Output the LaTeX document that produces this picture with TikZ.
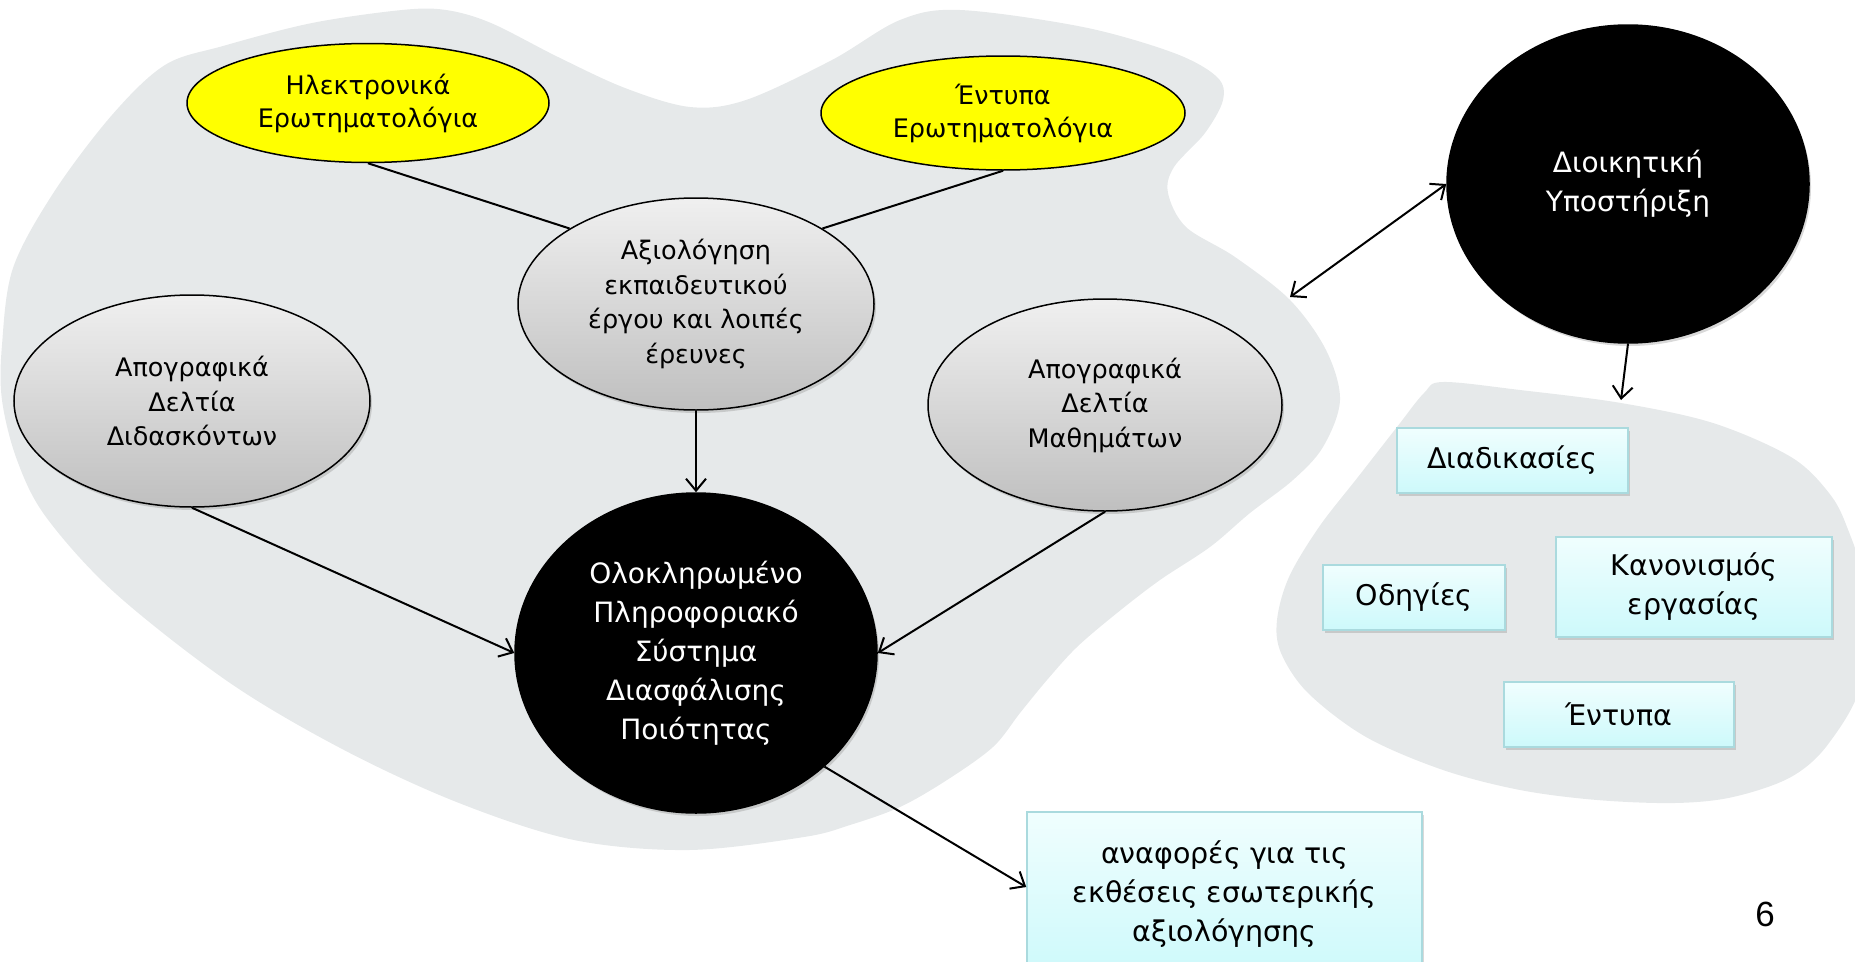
\documentclass[tikz,border=0pt]{standalone}
\usepackage{fontspec}
\setmainfont{DejaVu Sans}
\newfontfamily\numfont{Liberation Sans}
\usetikzlibrary{shapes.geometric,arrows.meta,shadows}
\definecolor{blobgrey}{RGB}{230,233,234}
\definecolor{boxedge}{RGB}{170,218,222}
\definecolor{boxtop}{RGB}{240,254,254}
\definecolor{boxbot}{RGB}{205,249,251}
\definecolor{ellyellow}{RGB}{255,255,0}
\tikzset{
  blob/.style={fill=blobgrey, draw=none},
  ell/.style={ellipse, inner sep=0pt, align=center, line width=1.5pt, draw=black},
  shad/.style={drop shadow={opacity=0.3, shadow xshift=2pt, shadow yshift=-3pt}},
  yellowell/.style={ell, fill=ellyellow, font=\fontsize{25.5}{33}\selectfont},
  greyell/.style={ell, top color=gray!12, bottom color=gray!50, shad, font=\fontsize{25.5}{34.5}\selectfont},
  blackell/.style={ell, fill=black, text=white, shad, font=\fontsize{28}{39}\selectfont},
  cbox/.style={rectangle, inner sep=0pt, align=center, draw=boxedge, line width=1.5pt,
    top color=boxtop, bottom color=boxbot, shad, font=\fontsize{28.5}{39}\selectfont},
  conn/.style={line width=2pt, draw=black},
  arr/.style={conn, -{Straight Barb[length=12pt,width=20pt]}},
  darr/.style={conn, {Straight Barb[length=12pt,width=20pt]}-{Straight Barb[length=12pt,width=20pt]}},
}
\begin{document}
\begin{tikzpicture}[x=1pt,y=-1pt]
\useasboundingbox (0,0) rectangle (1855,961);
\clip (0,0) rectangle (1855,961);
% background blobs
\fill[blob] plot[smooth cycle, tension=0.55] coordinates {
 (165,65) (223,46) (312,23) (402,10) (446,10) (491,23) (558,57) (625,88) (690,107)
 (746,100) (832,60) (900,20) (960,10) (1083,27) (1174,53) (1217,77) (1223,100)
 (1205,133) (1174,167) (1168,193) (1186,227) (1235,257) (1290,300) (1326,350)
 (1340,400) (1323,447) (1293,480) (1250,513) (1210,547) (1160,580) (1117,613)
 (1077,647) (1047,680) (1020,713) (993,747) (947,780) (900,807) (850,825)
 (804,837) (689,850) (574,840) (459,803) (344,750) (230,683) (115,593) (46,517)
 (17,460) (2,400) (2,345) (13,268) (54,192) (112,115)};
\fill[blob] plot[smooth cycle, tension=0.55] coordinates {
 (1443,382) (1520,390) (1621,403) (1713,423) (1791,457) (1829,493) (1847,527)
 (1862,580) (1862,680) (1829,743) (1791,777) (1733,797) (1675,803) (1597,800)
 (1520,790) (1443,770) (1366,737) (1308,693) (1281,653) (1277,620) (1289,577)
 (1319,527) (1358,477) (1397,427) (1424,393)};
% nodes
\node[yellowell, minimum width=362pt, minimum height=119pt] (e1) at (368,103) {Ηλεκτρονικά\\Ερωτηματολόγια};
\node[yellowell, minimum width=364pt, minimum height=114pt] (e2) at (1003,113) {Έντυπα\\Ερωτηματολόγια};
\node[greyell, minimum width=356pt, minimum height=212pt] (a) at (696,304) {Αξιολόγηση\\εκπαιδευτικού\\έργου και λοιπές\\έρευνες};
\node[greyell, minimum width=356pt, minimum height=212pt] (b) at (192,401) {Απογραφικά\\Δελτία\\Διδασκόντων};
\node[greyell, minimum width=354pt, minimum height=212pt] (c) at (1105,405) {Απογραφικά\\Δελτία\\Μαθημάτων};
\node[blackell, minimum width=362pt, minimum height=320pt] (d) at (696,653) {Ολοκληρωμένο\\Πληροφοριακό\\Σύστημα\\Διασφάλισης\\Ποιότητας};
\node[blackell, minimum width=362pt, minimum height=318pt] (f) at (1628,184) {Διοικητική\\Υποστήριξη};
\node[cbox, minimum width=231pt, minimum height=65pt] (p1) at (1512.5,460.5) {Διαδικασίες};
\node[cbox, minimum width=182pt, minimum height=65pt] (p2) at (1414,597.5) {Οδηγίες};
\node[cbox, minimum width=276pt, minimum height=100pt] (p3) at (1694,587) {Κανονισμός\\εργασίας};
\node[cbox, minimum width=230pt, minimum height=65pt] (p4) at (1619,714.5) {Έντυπα};
\node[cbox, minimum width=395pt, minimum height=164pt] (rep) at (1224.5,894) {αναφορές για τις\\εκθέσεις εσωτερικής\\αξιολόγησης};
\node[font=\numfont\fontsize{35}{40}\selectfont, inner sep=0pt] (pg) at (1765,914) {6};
% connectors
\coordinate (bl) at (1290,297);
\coordinate (sb) at (1621,400);
\draw[conn] (e1.south) -- (a.north west);
\draw[conn] (e2.south) -- (a.north east);
\draw[arr] (a.south) -- (d.north);
\draw[arr] (b.south) -- (d.west);
\draw[arr] (c.south) -- (d.east);
\draw[arr] (d.south east) -- ([yshift=7pt]rep.west);
\draw[darr] (bl) -- (f.west);
\draw[arr] (f.south) -- (sb);
\end{tikzpicture}
\end{document}
